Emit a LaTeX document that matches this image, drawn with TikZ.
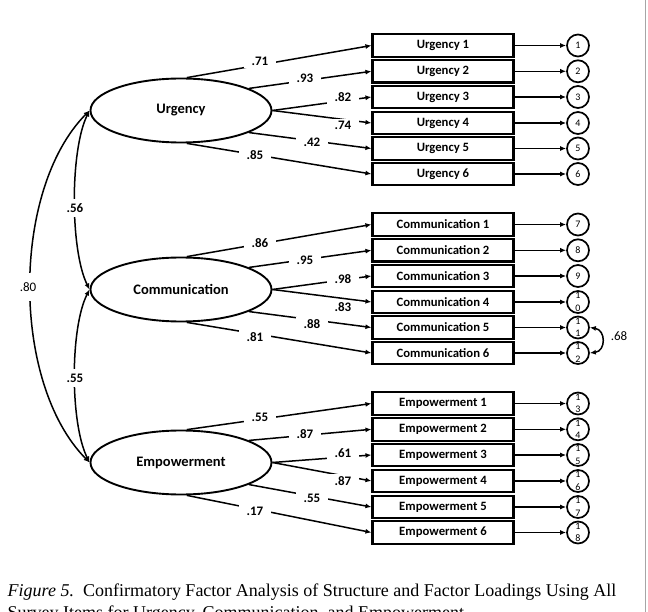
\documentclass[tikz,border=0pt]{standalone}
\usepackage{fontspec}
\setmainfont{Liberation Serif}
\newfontfamily\carl{Carlito}
\usetikzlibrary{shapes.geometric,arrows.meta}
\begin{document}
\begin{tikzpicture}[x=1pt,y=-1pt,
  lat/.style={ellipse,draw,line width=1.9pt,minimum width=181pt,minimum height=64pt,inner sep=0pt,font=\carl\bfseries\fontsize{14.5}{16}\selectfont},
  item/.style={rectangle,draw,line width=2.1pt,minimum width=141pt,minimum height=22.5pt,inner sep=0pt,font=\carl\bfseries\fontsize{12.7}{14}\selectfont},
  err/.style={circle,draw,line width=1.7pt,minimum size=22pt,inner sep=0pt,font=\carl\fontsize{10}{11}\selectfont},
  errtxt/.style={font=\carl\fontsize{10}{12.5}\selectfont,align=center,inner sep=0pt},
  load/.style={line width=1.5pt,-{Latex[length=6pt,width=5pt]}},
  resid/.style={line width=1.4pt,-{Latex[length=6pt,width=5pt]}},
  lbl/.style={fill=white,inner xsep=8pt,inner ysep=2pt,font=\carl\bfseries\fontsize{13}{14}\selectfont},
  clbl/.style={fill=white,inner xsep=3pt,inner ysep=5pt,font=\carl\bfseries\fontsize{13}{14}\selectfont},
  corr/.style={line width=1.5pt,{Latex[length=6pt,width=5pt]}-{Latex[length=6pt,width=5pt]}},
]
\useasboundingbox (0,0) rectangle (648,612);
\fill[white] (0,0) rectangle (648,612);
\draw[gray!70,line width=1pt] (645.5,0) -- (645.5,612);

% latent variables
\node[lat] (U) at (181,110.5) {Urgency};
\node[lat] (C) at (181,289.5) {Communication};
\node[lat] (E) at (181,462.5) {Empowerment};

% items and residuals
\foreach \i/\y in {1/45.5,2/71.3,3/97,4/123,5/148.5,6/174}{
  \node[item] (u\i) at (443,\y) {Urgency \i};
  \node[err] (r\i) at (578,\y) {\i};
  \draw[resid] (u\i.east) -- (r\i.west);
}
\foreach \i/\y/\n in {1/224.5/7,2/250.3/8,3/276/9}{
  \node[item] (c\i) at (443,\y) {Communication \i};
  \node[err] (r\n) at (578,\y) {\n};
  \draw[resid] (c\i.east) -- (r\n.west);
}
\foreach \i/\y/\n/\d in {4/302/10/0,5/327.5/11/1,6/353/12/2}{
  \node[item] (c\i) at (443,\y) {Communication \i};
  \node[err] (r\n) at (578,\y) {};
  \node[errtxt] (t\n) at (r\n) {1\\\d};
  \draw[resid] (c\i.east) -- (r\n.west);
}
\foreach \i/\y/\n/\d in {1/403.5/13/3,2/429.3/14/4,3/455/15/5,4/481/16/6,5/507/17/7,6/532.5/18/8}{
  \node[item] (e\i) at (443,\y) {Empowerment \i};
  \node[err] (r\n) at (578,\y) {};
  \node[errtxt] (t\n) at (r\n) {1\\\d};
  \draw[resid] (e\i.east) -- (r\n.west);
}

% loadings
\foreach \L/\b in {U/u,C/c,E/e}{
  \draw[load] (\L.80) -- (\b1.west);
  \draw[load] (\L.18) -- (\b2.west);
  \draw[load] (\L.0) -- (\b3.west);
  \draw[load] (\L.0) -- (\b4.west);
  \draw[load] (\L.-18) -- (\b5.west);
  \draw[load] (\L.-80) -- (\b6.west);
}

% loading labels
\node[lbl] (lu1) at (260,61.7) {.71};
\node[lbl] (lu2) at (305,78) {.93};
\node[lbl] (lu3) at (343,97) {.82};
\node[lbl] (lu4) at (343,125.7) {.74};
\node[lbl] (lu5) at (312,142) {.42};
\node[lbl] (lu6) at (255,155) {.85};

\node[lbl] (lc1) at (260,242.7) {.86};
\node[lbl] (lc2) at (305,260) {.95};
\node[lbl] (lc3) at (343,279) {.98};
\node[lbl] (lc4) at (343,307.3) {.83};
\node[lbl] (lc5) at (312,324) {.88};
\node[lbl] (lc6) at (255,336.7) {.81};

\node[lbl] (le1) at (260,417.3) {.55};
\node[lbl] (le2) at (305,434.3) {.87};
\node[lbl] (le3) at (343,453.3) {.61};
\node[lbl] (le4) at (343,481) {.87};
\node[lbl] (le5) at (312,498.3) {.55};
\node[lbl] (le6) at (255,511.7) {.17};

% factor correlations
\draw[corr] (U.west) .. controls (11,190) and (11,383) .. (E.west);
\draw[corr] (U.west) .. controls (70,150) and (70,250) .. (C.west);
\draw[corr] (C.west) .. controls (70,328) and (70,423) .. (E.west);
\node[clbl,inner ysep=10pt,font=\carl\fontsize{13}{14}\selectfont] (l80) at (28,287) {.80};
\node[clbl] (l56) at (75,208) {.56};
\node[clbl] (l55) at (75,378) {.55};

% residual correlation
\draw[corr] (r11.east) .. controls (606,330) and (606,351) .. (r12.east);
\node[font=\carl\fontsize{13}{14}\selectfont,inner sep=1pt] (l68) at (619,336.5) {.68};

% caption
\node[anchor=base west,inner sep=0pt,font=\fontsize{18}{22}\selectfont] (cap1) at (7.5,596) {\textit{Figure 5.}\ \ Confirmatory Factor Analysis of Structure and Factor Loadings Using All};
\node[anchor=base west,inner sep=0pt,font=\fontsize{18}{22}\selectfont] (cap2) at (7.5,618) {Survey Items for Urgency, Communication, and Empowerment};
\end{tikzpicture}
\end{document}
